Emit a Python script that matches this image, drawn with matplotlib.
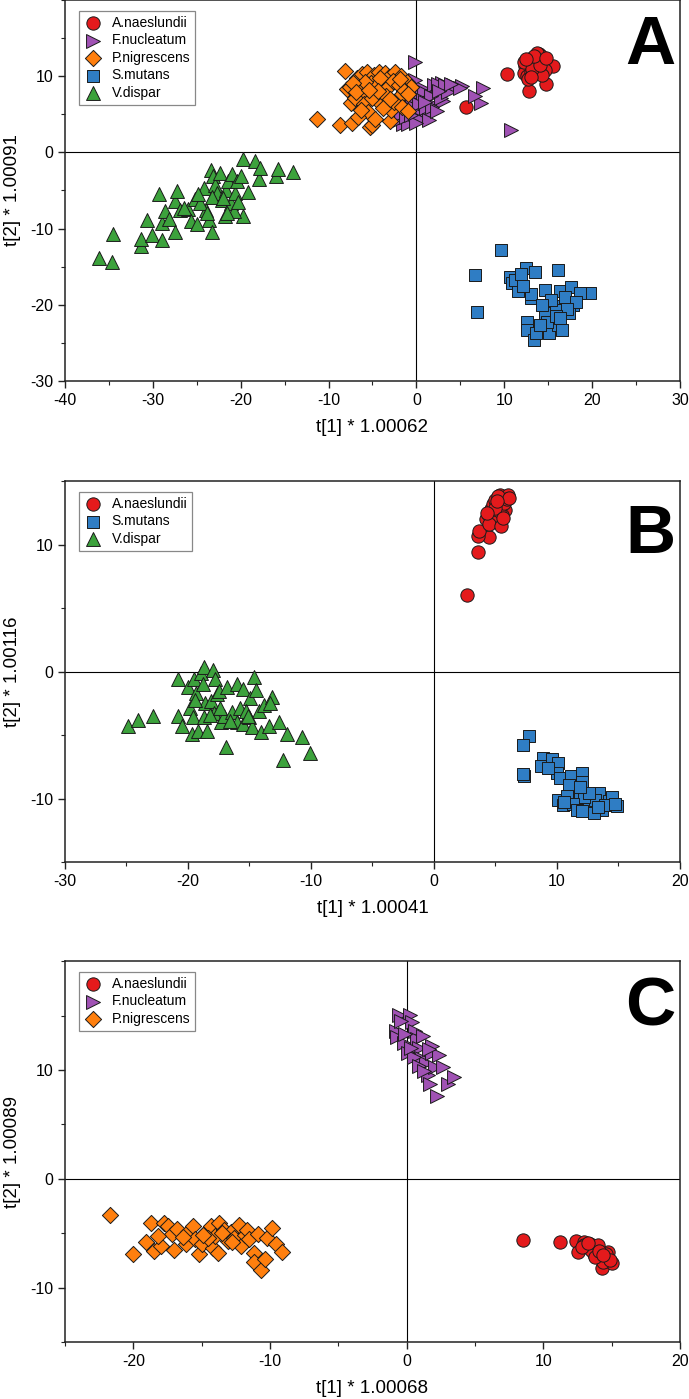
import matplotlib
matplotlib.use("Agg")
import matplotlib.pyplot as plt
from matplotlib.ticker import MultipleLocator, FixedLocator

plt.rcParams['font.family'] = ['Liberation Sans', 'DejaVu Sans']
plt.rcParams['axes.unicode_minus'] = False

# colours / markers for each species
styles = {
    'A.naeslundii': ('o', '#e41a1c', 92),
    'F.nucleatum': ('>', '#a052b4', 100),
    'P.nigrescens': ('D', '#ff7f0e', 68),
    'S.mutans': ('s', '#2f7dc4', 76),
    'V.dispar': ('^', '#3ca23c', 100),
}

# ---------- panel A ----------
a_naes_x = [10.35, 5.6, 12.85, 14.75, 15.5, 13.9, 14.2, 13.6, 13.3, 12.8, 12.4, 12.2, 12.6, 13.1, 13.8,
            14.4, 14.0, 13.5, 12.9, 12.3, 13.7, 14.6, 14.3, 12.7, 13.2, 14.1, 13.4, 12.5, 14.8, 13.0]
a_naes_y = [10.3, 6.0, 8.1, 9.0, 11.4, 12.9, 12.6, 12.4, 12.0, 11.7, 11.3, 10.4, 10.0, 10.6, 11.8,
            12.1, 11.2, 10.9, 12.3, 11.9, 13.1, 10.8, 10.2, 9.6, 11.0, 11.5, 12.7, 12.2, 12.4, 9.9]

a_fnuc_x = [-0.15, 10.8, 7.6, 7.4, 6.7, 5.15, 4.2, 2.9, -1.5, -0.95, -2.0, -0.4, 0.1, 1.2, 1.55, 2.1,
            3.45, 0.6, 0.2, -0.7, -1.4, 0.9, 2.0, 3.0, 4.5, 1.1, -0.5, 2.8, 3.6, 0.4, -1.8, 1.8, 2.5,
            -0.2, 0.8, 3.2, -1.2, 5.0, -1.0, 1.4, 2.3, 0.0, 1.7, 0.3, -0.6, 2.6, 3.9, 1.0, -1.6]
a_fnuc_y = [11.9, 2.95, 8.45, 6.5, 7.4, 8.7, 8.9, 9.15, 3.7, 3.7, 4.2, 5.65, 5.2, 5.0, 6.5, 7.6,
            8.3, 8.5, 7.2, 7.0, 5.6, 7.9, 8.8, 6.8, 8.6, 5.8, 6.1, 7.2, 7.9, 4.4, 5.0, 6.0, 9.0,
            9.5, 6.9, 8.8, 4.7, 8.5, 8.8, 4.3, 5.4, 3.9, 7.4, 6.3, 4.9, 8.1, 9.0, 6.6, 6.4]

a_pnig_x = [-11.3, -8.7, -8.13, -7.3, -5.3, -5.0, -3.0, -2.9, -7.4, -7.9, -6.8, -6.2, -5.6, -4.8, -4.3,
            -3.6, -3.1, -2.4, -1.7, -1.1, -0.6, -6.5, -5.9, -5.2, -4.5, -3.9, -3.3, -2.7, -2.0, -1.4,
            -7.0, -6.0, -5.5, -4.0, -3.5, -2.2, -1.0, -6.6, -4.7, -3.8, -2.5, -5.8, -4.2, -7.6, -1.6,
            -0.9, -5.1, -6.3, -7.2, -4.4, -3.0, -1.9, -6.9, -5.4]
a_pnig_y = [4.4, 3.55, 10.7, 3.85, 3.3, 3.55, 4.1, 5.6, 6.5, 8.3, 9.8, 10.3, 10.5, 10.1, 10.6,
            10.4, 9.9, 10.6, 10.0, 9.2, 8.6, 8.5, 7.6, 9.1, 8.8, 7.9, 8.4, 9.4, 8.8, 8.1,
            7.2, 6.3, 5.3, 6.4, 7.4, 7.0, 7.6, 4.7, 4.4, 5.8, 6.6, 9.3, 9.7, 8.6, 6.0,
            5.4, 7.2, 5.6, 9.1, 8.1, 7.0, 9.6, 7.9, 8.2]

a_smut_x = [9.6, 6.7, 6.85, 16.1, 19.75, 12.5, 13.5, 10.6, 10.85, 11.6, 13.1, 14.6, 16.35, 17.6, 18.6,
            17.85, 17.35, 15.6, 14.6, 12.6, 12.6, 13.35, 13.6, 15.1, 16.1, 16.6, 14.85, 14.1, 15.85,
            11.2, 11.9, 13.0, 15.3, 16.9, 18.2, 17.1, 15.9, 14.3, 16.4, 12.1]
a_smut_y = [-12.8, -16.1, -20.9, -15.4, -18.4, -15.2, -15.75, -16.3, -17.2, -18.25, -19.1, -18.0, -18.2, -17.7, -18.5,
            -20.0, -21.1, -20.2, -21.1, -22.2, -23.3, -24.6, -23.7, -23.7, -22.6, -23.3, -22.2, -22.6, -20.7,
            -16.8, -16.0, -18.6, -19.4, -19.0, -19.6, -20.6, -21.5, -20.0, -21.8, -17.6]

a_vdis_x = [-36.1, -34.6, -34.5, -31.4, -31.4, -30.15, -30.65, -29.3, -28.9, -28.9, -28.65, -28.15, -27.5, -27.5,
            -27.25, -26.9, -26.0, -25.65, -25.0, -25.15, -24.15, -23.9, -23.65, -23.25, -23.4, -23.15, -22.9,
            -22.65, -22.4, -22.15, -21.75, -21.65, -21.4, -21.15, -21.0, -20.65, -20.4, -20.0, -19.75, -19.75,
            -20.75, -19.15, -18.4, -17.9, -17.75, -16.0, -15.8, -14.0, -24.6, -23.8, -21.6, -23.3, -20.3,
            -22.0, -24.9, -26.5]
a_vdis_y = [-13.8, -14.4, -10.7, -12.3, -11.4, -10.9, -8.9, -5.5, -11.5, -9.3, -7.7, -8.8, -10.4, -6.4,
            -5.1, -7.5, -7.45, -9.05, -9.35, -6.1, -4.7, -7.5, -8.85, -10.4, -2.3, -3.15, -4.25,
            -5.35, -2.7, -6.2, -8.4, -4.9, -3.8, -6.65, -2.9, -5.35, -3.8, -3.15, -8.4, -0.9,
            -7.75, -5.25, -1.1, -3.45, -2.0, -3.15, -2.2, -2.6, -6.6, -7.9, -7.9, -5.8, -6.5,
            -6.0, -5.4, -7.3]

# ---------- panel B ----------
b_naes_x = [2.7, 3.6, 4.45, 3.55, 3.65, 4.2, 4.4, 4.6, 4.8, 5.0, 5.25, 5.4, 5.6, 5.8, 6.0,
            4.9, 5.1, 5.5, 5.3, 4.7, 5.7, 5.9, 4.5, 5.2, 6.1, 4.95, 5.45, 5.15, 4.3, 5.65]
b_naes_y = [6.0, 9.45, 10.6, 10.7, 11.05, 12.0, 12.4, 12.8, 13.2, 13.5, 11.9, 13.9, 13.6, 12.7, 13.9,
            12.2, 13.0, 12.3, 12.6, 11.8, 13.3, 13.6, 11.6, 13.8, 13.7, 12.9, 11.5, 13.4, 12.5, 12.1]

b_smut_x = [7.7, 7.2, 7.3, 7.25, 8.9, 8.7, 9.6, 10.1, 10.0, 10.25, 11.1, 12.05, 12.05, 11.0, 10.1,
            10.8, 10.5, 11.85, 12.75, 12.9, 13.45, 14.2, 14.9, 11.85, 12.4, 13.1, 13.7, 14.5, 12.2, 11.3,
            13.0, 13.9, 14.7, 12.6, 11.6, 10.6, 12.0, 13.3, 9.3, 11.9]
b_smut_y = [-5.1, -5.75, -8.25, -8.1, -6.8, -7.45, -6.9, -7.2, -8.0, -8.35, -8.25, -8.0, -8.7, -8.9, -10.1,
            -9.8, -10.5, -9.7, -10.35, -11.0, -9.55, -10.2, -10.6, -10.7, -10.8, -10.1, -10.9, -9.9, -9.9, -10.4,
            -11.1, -10.5, -10.4, -9.6, -10.9, -10.3, -11.0, -10.7, -7.6, -9.1]

b_vdis_x = [-24.9, -24.1, -22.85, -20.8, -20.8, -20.45, -20.0, -19.85, -19.65, -19.6, -19.5, -19.35, -19.2,
            -18.95, -18.7, -18.8, -18.7, -18.6, -18.45, -18.15, -18.0, -17.9, -17.8, -17.6, -17.45, -17.3,
            -17.05, -16.9, -16.8, -16.45, -16.0, -16.0, -15.75, -15.55, -15.5, -15.0, -14.95, -14.8, -14.6,
            -14.5, -14.2, -14.05, -13.85, -13.4, -13.15, -13.3, -12.6, -12.25, -11.95, -10.7, -10.1,
            -15.3, -16.6, -18.2, -19.4, -17.4, -15.1]
b_vdis_y = [-4.3, -3.85, -3.5, -0.55, -3.5, -4.3, -1.2, -2.85, -4.95, -3.6, -0.55, -1.7, -4.7,
            -0.15, 0.35, -1.0, -3.6, -2.45, -4.65, -2.3, 0.1, -3.25, -0.55, -1.8, -1.5, -4.0,
            -3.5, -5.95, -1.2, -3.15, -0.95, -4.0, -2.85, -1.4, -4.15, -3.6, -2.1, -4.4, -0.45,
            -1.45, -3.1, -4.75, -2.6, -4.3, -2.0, -2.45, -3.95, -7.0, -4.9, -5.15, -6.45,
            -3.1, -3.9, -3.4, -2.2, -2.9, -3.5]

# ---------- panel C ----------
c_naes_x = [8.5, 11.25, 12.4, 12.55, 14.3, 15.05, 12.95, 13.4, 13.9, 13.2, 13.7, 14.2, 14.5, 14.35, 14.7,
            13.0, 13.5, 14.0, 14.6, 13.8, 12.8, 14.1, 14.9, 13.3, 14.4]
c_naes_y = [-5.6, -5.8, -5.7, -6.75, -8.15, -7.7, -5.85, -6.0, -6.4, -6.3, -6.9, -7.1, -7.3, -7.6, -6.7,
            -6.1, -6.5, -6.1, -6.95, -7.2, -6.3, -6.6, -7.5, -5.9, -7.0]

c_fnuc_x = [-0.55, 0.25, -0.75, -0.7, -0.2, 0.4, 0.6, 0.75, 0.9, 1.05, 1.2, 1.4, 1.55, 1.7, 1.85,
            2.05, 2.2, 2.35, 2.65, 3.0, 3.45, 0.1, 0.55, 0.9, -0.1, 1.25, 1.85, -0.4, 0.3, 1.6]
c_fnuc_y = [15.05, 15.05, 13.6, 13.0, 12.5, 14.4, 13.6, 12.85, 12.05, 11.1, 13.15, 10.6, 9.5, 8.7, 11.55,
            10.3, 7.6, 11.4, 10.3, 8.7, 9.35, 11.6, 11.2, 10.4, 13.3, 9.9, 12.2, 14.5, 12.0, 11.9]

c_pnig_x = [-21.7, -20.0, -19.05, -18.7, -18.45, -17.95, -17.75, -17.45, -17.15, -17.0, -16.8, -16.15, -16.0,
            -15.65, -15.5, -15.2, -15.0, -14.7, -14.3, -14.2, -14.05, -13.8, -13.75, -13.4, -13.1, -12.85,
            -12.6, -12.3, -12.1, -11.85, -11.65, -11.5, -11.2, -11.2, -10.85, -10.65, -10.35, -10.2, -9.85,
            -9.55, -9.15, -18.2, -16.4, -14.5, -12.75, -13.5, -14.9]
c_pnig_y = [-3.3, -6.9, -5.85, -4.05, -6.65, -6.2, -4.05, -4.3, -5.05, -6.55, -4.6, -6.0, -4.85,
            -4.35, -5.5, -6.95, -5.95, -4.85, -4.35, -6.35, -5.3, -6.8, -4.1, -4.75, -5.7, -4.9,
            -5.4, -4.2, -6.2, -5.15, -4.75, -5.55, -6.8, -7.6, -5.05, -8.4, -7.4, -5.4, -4.55,
            -6.0, -6.75, -5.3, -5.35, -5.4, -5.8, -5.0, -5.2]

panels = [
    dict(letter='A', xlab='t[1] * 1.00062', ylab='t[2] * 1.00091',
         xlim=(-40, 30), ylim=(-30, 20), yticks=[-30, -20, -10, 0, 10], letter_y=0.832,
         series=[('A.naeslundii', a_naes_x, a_naes_y), ('F.nucleatum', a_fnuc_x, a_fnuc_y),
                 ('P.nigrescens', a_pnig_x, a_pnig_y), ('S.mutans', a_smut_x, a_smut_y),
                 ('V.dispar', a_vdis_x, a_vdis_y)]),
    dict(letter='B', xlab='t[1] * 1.00041', ylab='t[2] * 1.00116',
         xlim=(-30, 20), ylim=(-15, 15), yticks=[-10, 0, 10], letter_y=0.811,
         series=[('A.naeslundii', b_naes_x, b_naes_y), ('S.mutans', b_smut_x, b_smut_y),
                 ('V.dispar', b_vdis_x, b_vdis_y)]),
    dict(letter='C', xlab='t[1] * 1.00068', ylab='t[2] * 1.00089',
         xlim=(-25, 20), ylim=(-15, 20), yticks=[-10, 0, 10], letter_y=0.832,
         series=[('A.naeslundii', c_naes_x, c_naes_y), ('F.nucleatum', c_fnuc_x, c_fnuc_y),
                 ('P.nigrescens', c_pnig_x, c_pnig_y)]),
]

fig = plt.figure(figsize=(6.89, 13.99), dpi=100)
bottoms = [0.7277, 0.3838, 0.0407]

for p, b in zip(panels, bottoms):
    ax = fig.add_axes([0.0943, b, 0.8926, 0.2723])
    ax.axhline(0, color='black', lw=0.8, zorder=1)
    ax.axvline(0, color='black', lw=0.8, zorder=1)
    for name, xs, ys in p['series']:
        m, c, s = styles[name]
        ax.scatter(xs, ys, marker=m, s=s, c=c, edgecolors='#1a1a1a', linewidths=0.7,
                   label=name, zorder=3)
    ax.set_xlim(*p['xlim'])
    ax.set_ylim(*p['ylim'])
    ax.xaxis.set_major_locator(MultipleLocator(10))
    ax.xaxis.set_minor_locator(MultipleLocator(5))
    ax.yaxis.set_major_locator(FixedLocator(p['yticks']))
    ax.yaxis.set_minor_locator(MultipleLocator(5))
    ax.tick_params(which='both', direction='out', top=False, right=False, labelsize=11.5, color='#222222')
    ax.tick_params(which='major', length=5, width=1.0)
    ax.tick_params(which='minor', length=3, width=0.8)
    for sp in ax.spines.values():
        sp.set_linewidth(1.1)
        sp.set_color('#222222')
    ax.set_xlabel(p['xlab'], fontsize=13.5, labelpad=8)
    ax.set_ylabel(p['ylab'], fontsize=13.5)
    ax.yaxis.set_label_coords(-0.072, 0.5)
    ax.text(0.992, p['letter_y'], p['letter'], transform=ax.transAxes, ha='right', va='baseline',
            fontsize=50, fontweight='bold')
    leg = ax.legend(loc='upper left', bbox_to_anchor=(0.0228, 0.971), borderaxespad=0,
                    fontsize=10, labelspacing=0.25, handlelength=1.3, handletextpad=0.7,
                    borderpad=0.35, fancybox=False, framealpha=1, edgecolor='#888888',
                    scatterpoints=1, markerscale=1.0)
    leg.get_frame().set_linewidth(0.9)

fig.savefig('out.png', dpi=100)
